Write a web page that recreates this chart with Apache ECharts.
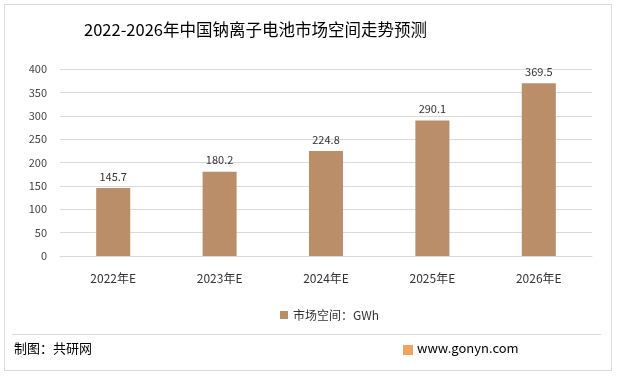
<!DOCTYPE html>
<html>
<head>
<meta charset="utf-8">
<script src="https://cdn.jsdelivr.net/npm/echarts@6/dist/echarts.min.js"></script>
<style>
  html, body { margin: 0; padding: 0; background: #fff; }
  #chart { width: 617px; height: 376px; }
</style>
</head>
<body>
<div id="chart"></div>
<script>
const years = ['2022年E', '2023年E', '2024年E', '2025年E', '2026年E'];
const marketSize = [145.7, 180.2, 224.8, 290.1, 369.5];
const yTicks = [0, 50, 100, 150, 200, 250, 300, 350, 400];

const font = '"Microsoft YaHei", "Noto Sans CJK SC", sans-serif';
const chart = echarts.init(document.getElementById('chart'));

chart.setOption({
  backgroundColor: '#fff',
  animation: false,
  textStyle: {fontFamily: font},
  title: {
    text: '2022-2026年中国钠离子电池市场空间走势预测',
    left: 79,
    top: 16,
    textStyle: {fontSize: 16.5, fontWeight: 'normal', color: '#000', fontFamily: font},
  },
  legend: {
    data: ['市场空间：GWh'],
    bottom: 50,
    left: 275,
    itemWidth: 8,
    itemHeight: 8,
    icon: 'rect',
    itemGap: 4,
    textStyle: {fontSize: 12, color: '#333', fontFamily: font},
  },
  grid: {left: 60, right: 25, top: 69, bottom: 120, containLabel: false},
  xAxis: {
    type: 'category',
    data: years,
    axisLine: {lineStyle: {color: '#d9d9d9'}},
    axisTick: {show: false},
    axisLabel: {color: '#333', fontSize: 12, margin: 16},
  },
  yAxis: {
    type: 'value',
    min: yTicks[0],
    max: yTicks[yTicks.length - 1],
    interval: 50,
    axisLine: {show: false},
    axisTick: {show: false},
    axisLabel: {color: '#444', fontSize: 11, margin: 13},
    splitLine: {lineStyle: {color: '#d9d9d9'}},
  },
  series: [{
    name: '市场空间：GWh',
    type: 'bar',
    data: marketSize,
    barWidth: '32%',
    itemStyle: {color: '#BB8E6A'},
    label: {show: true, position: 'top', color: '#333', fontSize: 11, distance: 6},
  }],
  graphic: [
    {type: 'rect', shape: {x: 4.5, y: 4.5, width: 607, height: 366}, style: {fill: 'none', stroke: '#d9d9d9', lineWidth: 1}},
    {type: 'line', shape: {x1: 12, y1: 334.5, x2: 601, y2: 334.5}, style: {stroke: '#d9d9d9', lineWidth: 1}},
    {type: 'text', left: 14, top: 342, style: {text: '制图：共研网', fill: '#000', font: '13px ' + font}},
    {type: 'rect', shape: {x: 403, y: 345, width: 10, height: 10}, style: {fill: '#F2A35E'}},
    {type: 'text', left: 417, top: 342, style: {text: 'www.gonyn.com', fill: '#000', font: '13px ' + font}},
  ],
});
</script>
</body>
</html>
